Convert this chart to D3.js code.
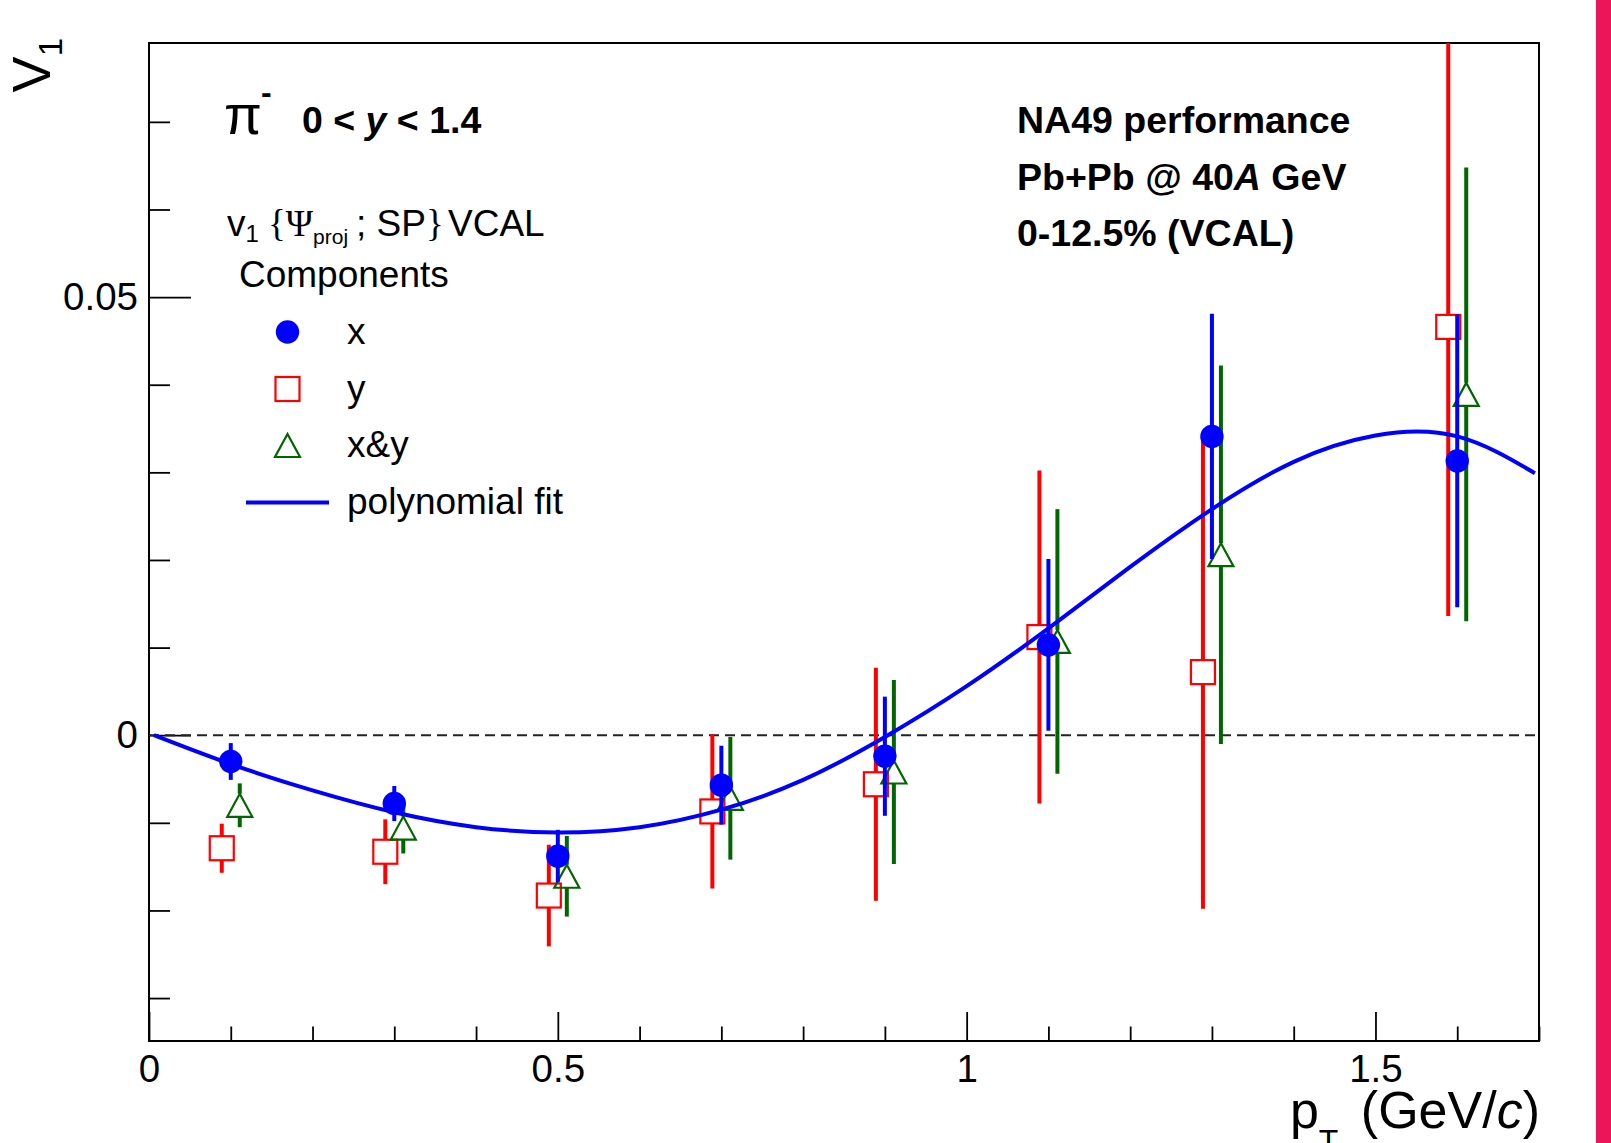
<!DOCTYPE html>
<html>
<head>
<meta charset="utf-8">
<script src="https://cdn.jsdelivr.net/npm/d3@7"></script>
<style>
  body { margin: 0; background: #fff; }
  svg { display: block; }
  text { font-family: "Liberation Sans", Arial, sans-serif; fill: #000; }
</style>
</head>
<body>
<div id="chart"></div>
<script>
// pT bins (GeV/c) and v1 values
const ptBins = [0.1, 0.3, 0.5, 0.7, 0.9, 1.1, 1.3, 1.6];

const v1X = [-0.0030, -0.0078, -0.0138, -0.0057, -0.0024, 0.0103, 0.0341, 0.0313];
const errX = [0.0021, 0.0020, 0.0030, 0.0045, 0.0068, 0.0098, 0.0140, 0.0167];

const v1Y = [-0.0129, -0.0133, -0.0183, -0.0087, -0.0056, 0.0112, 0.0072, 0.0466];
const errY = [0.0028, 0.0037, 0.0058, 0.0088, 0.0133, 0.0190, 0.0270, 0.0330];

const v1XY = [-0.0080, -0.0106, -0.0161, -0.0072, -0.0042, 0.0107, 0.0206, 0.0389];
const errXY = [0.0025, 0.0029, 0.0046, 0.0070, 0.0105, 0.0151, 0.0216, 0.0259];

// polynomial fit, points
const fitPt = [0.006, 0.1, 0.2, 0.3, 0.4, 0.5, 0.6, 0.7, 0.8, 0.9, 1.0, 1.1, 1.2, 1.3, 1.4, 1.5, 1.6, 1.695];
const fitV1 = [0.0, -0.0033, -0.0063, -0.0088, -0.0105, -0.0111, -0.0105, -0.0085, -0.0051, -0.0002, 0.0056, 0.0122, 0.0192, 0.0258, 0.0312, 0.0342, 0.0341, 0.0299];

const xMajor = [0, 0.5, 1, 1.5];
const xMajorLabels = ["0", "0.5", "1", "1.5"];
const yMajor = [0, 0.05];
const yMajorLabels = ["0", "0.05"];

const W = 1611, H = 1143;
const frame = { left: 149, right: 1539, top: 43, bottom: 1041 };

const x = d3.scaleLinear().domain([0, 1.7]).range([frame.left, frame.right]);
const y = d3.scaleLinear().domain([-0.0349, 0.079]).range([frame.bottom, frame.top]);

const shift = 0.011; // horizontal offset between the three components

const svg = d3.select("#chart").append("svg")
  .attr("width", W)
  .attr("height", H);

svg.append("rect").attr("width", W).attr("height", H).attr("fill", "#fff");

// pink strip on the right edge
svg.append("rect")
  .attr("x", 1596).attr("y", 0)
  .attr("width", 15).attr("height", H)
  .attr("fill", "#ec1559");

svg.append("clipPath").attr("id", "plotclip")
  .append("rect")
  .attr("x", frame.left).attr("y", frame.top)
  .attr("width", frame.right - frame.left)
  .attr("height", frame.bottom - frame.top);

// axes (ROOT style: ticks inside the frame)
const xMinor = d3.range(0, 1.71, 0.1).map((d) => +d.toFixed(2)).filter((d) => !xMajor.includes(d));
const yMinor = d3.range(-0.03, 0.0751, 0.01).map((d) => +d.toFixed(3)).filter((d) => !yMajor.includes(d));

svg.append("g")
  .attr("transform", `translate(0,${frame.bottom})`)
  .call(d3.axisBottom(x).tickValues(xMajor)
    .tickFormat((d, i) => xMajorLabels[i])
    .tickSizeInner(-29).tickSizeOuter(0).tickPadding(14));
svg.append("g")
  .attr("transform", `translate(0,${frame.bottom})`)
  .call(d3.axisBottom(x).tickValues(xMinor).tickFormat("")
    .tickSizeInner(-14.5).tickSizeOuter(0));

svg.append("g")
  .attr("transform", `translate(${frame.left},0)`)
  .call(d3.axisLeft(y).tickValues(yMajor)
    .tickFormat((d, i) => yMajorLabels[i])
    .tickSizeInner(-42).tickSizeOuter(0).tickPadding(11));
svg.append("g")
  .attr("transform", `translate(${frame.left},0)`)
  .call(d3.axisLeft(y).tickValues(yMinor).tickFormat("")
    .tickSizeInner(-21).tickSizeOuter(0));

svg.selectAll(".domain").remove();
svg.selectAll(".tick line").attr("stroke", "#000").attr("stroke-width", 1.8);
svg.selectAll(".tick text")
  .attr("font-family", "Liberation Sans, Arial, sans-serif")
  .attr("font-size", 38.5)
  .attr("fill", "#000");

// frame
svg.append("rect")
  .attr("x", frame.left).attr("y", frame.top)
  .attr("width", frame.right - frame.left)
  .attr("height", frame.bottom - frame.top)
  .attr("fill", "none")
  .attr("stroke", "#000")
  .attr("stroke-width", 2);

const plot = svg.append("g").attr("clip-path", "url(#plotclip)");

// zero line
plot.append("line")
  .attr("x1", frame.left).attr("x2", frame.right)
  .attr("y1", y(0)).attr("y2", y(0))
  .attr("stroke", "#222")
  .attr("stroke-width", 2)
  .attr("stroke-dasharray", "10,6");

const blue = "#0000ff", red = "#ff0000", green = "#006600";
const half = 12; // half marker size in px

function rows(vals, errs, dx) {
  return ptBins.map((p, i) => ({ pt: p + dx, v: vals[i], e: errs[i] }));
}

// error bars, leaving a gap where an open marker sits
function errorBars(data, color, gap) {
  const g = plot.append("g");
  data.forEach((d) => {
    const cx = x(d.pt), cy = y(d.v);
    const top = y(d.v + d.e), bot = y(d.v - d.e);
    const segs = gap > 0 ? [[top, cy - gap], [cy + gap, bot]] : [[top, bot]];
    segs.forEach(([a, b]) => {
      if (b > a) {
        g.append("line")
          .attr("x1", cx).attr("x2", cx)
          .attr("y1", a).attr("y2", b)
          .attr("stroke", color)
          .attr("stroke-width", 4);
      }
    });
  });
}

const triPath = (cx, cy) =>
  `M${cx},${cy - 11.5}L${cx + 12.5},${cy + 11.5}L${cx - 12.5},${cy + 11.5}Z`;

const dataY = rows(v1Y, errY, -shift);
const dataXY = rows(v1XY, errXY, shift);
const dataX = rows(v1X, errX, 0);

// y component: open red squares
errorBars(dataY, red, half);
plot.append("g").selectAll("rect")
  .data(dataY).enter().append("rect")
  .attr("x", (d) => x(d.pt) - half)
  .attr("y", (d) => y(d.v) - half)
  .attr("width", half * 2).attr("height", half * 2)
  .attr("fill", "none")
  .attr("stroke", red)
  .attr("stroke-width", 2.2);

// x&y component: open green triangles
errorBars(dataXY, green, 11.5);
plot.append("g").selectAll("path")
  .data(dataXY).enter().append("path")
  .attr("d", (d) => triPath(x(d.pt), y(d.v)))
  .attr("fill", "none")
  .attr("stroke", green)
  .attr("stroke-width", 2.2);

// x component: full blue circles
errorBars(dataX, blue, 0);
plot.append("g").selectAll("circle")
  .data(dataX).enter().append("circle")
  .attr("cx", (d) => x(d.pt))
  .attr("cy", (d) => y(d.v))
  .attr("r", 11.7)
  .attr("fill", blue);

// polynomial fit
const fitLine = d3.line()
  .x((d, i) => x(fitPt[i]))
  .y((d) => y(d))
  .curve(d3.curveNatural);
plot.append("path")
  .datum(fitV1)
  .attr("d", fitLine)
  .attr("fill", "none")
  .attr("stroke", blue)
  .attr("stroke-width", 4);

// axis titles
const yTitle = svg.append("text")
  .attr("transform", "translate(50,38) rotate(-90)")
  .attr("text-anchor", "end")
  .attr("font-size", 54);
yTitle.append("tspan").text("V");
yTitle.append("tspan").attr("font-size", 33).attr("dy", 12).text("1");

const xTitle = svg.append("text")
  .attr("x", 1540).attr("y", 1128)
  .attr("text-anchor", "end")
  .attr("font-size", 52);
xTitle.append("tspan").text("p");
xTitle.append("tspan").attr("font-size", 32).attr("dy", 24).text("T");
xTitle.append("tspan").attr("dy", -24).attr("dx", 8).text(" (GeV/");
xTitle.append("tspan").attr("font-style", "italic").text("c");
xTitle.append("tspan").text(")");

// particle and rapidity
svg.append("text")
  .attr("x", 224).attr("y", 134)
  .attr("font-family", "Liberation Serif, Times New Roman, serif")
  .attr("font-size", 55)
  .text("π");
svg.append("text")
  .attr("x", 261).attr("y", 103)
  .attr("font-weight", "bold")
  .attr("font-size", 32)
  .text("-");
const rap = svg.append("text")
  .attr("x", 302).attr("y", 133)
  .attr("font-weight", "bold")
  .attr("font-size", 37.5);
rap.append("tspan").text("0 < ");
rap.append("tspan").attr("font-style", "italic").text("y");
rap.append("tspan").text(" < 1.4");

// experiment labels
const info = svg.append("g").attr("font-weight", "bold").attr("font-size", 37.5);
info.append("text").attr("x", 1017).attr("y", 133).text("NA49 performance");
const beam = info.append("text").attr("x", 1017).attr("y", 189.5);
beam.append("tspan").text("Pb+Pb @ 40");
beam.append("tspan").attr("font-style", "italic").text("A");
beam.append("tspan").text(" GeV");
info.append("text").attr("x", 1017).attr("y", 245.5).text("0-12.5% (VCAL)");

// legend header
const head = svg.append("text")
  .attr("x", 227).attr("y", 236)
  .attr("font-size", 37);
head.append("tspan").text("v");
head.append("tspan").attr("font-size", 24).attr("dy", 6).text("1");
head.append("tspan").attr("x", 268).attr("dy", -6).attr("font-family", "Liberation Serif, serif").text("{Ψ");
head.append("tspan").attr("font-size", 21).attr("dy", 8).text("proj");
head.append("tspan").attr("x", 356).attr("dy", -8).text("; SP");
head.append("tspan").attr("font-family", "Liberation Serif, serif").text("}");
head.append("tspan").attr("x", 448).text("VCAL");

svg.append("text")
  .attr("x", 239).attr("y", 287)
  .attr("font-size", 37)
  .text("Components");

// legend entries
const legendLabels = ["x", "y", "x&y", "polynomial fit"];
const legendRowY = [332, 389, 445.5, 502.5];
const lg = svg.append("g");
lg.append("circle").attr("cx", 287.5).attr("cy", legendRowY[0]).attr("r", 11.7).attr("fill", blue);
lg.append("rect")
  .attr("x", 287.5 - half).attr("y", legendRowY[1] - half)
  .attr("width", half * 2).attr("height", half * 2)
  .attr("fill", "none").attr("stroke", red).attr("stroke-width", 2.2);
lg.append("path")
  .attr("d", triPath(287.5, legendRowY[2]))
  .attr("fill", "none").attr("stroke", green).attr("stroke-width", 2.2);
lg.append("line")
  .attr("x1", 246).attr("x2", 329)
  .attr("y1", legendRowY[3]).attr("y2", legendRowY[3])
  .attr("stroke", blue).attr("stroke-width", 4);
lg.selectAll("text")
  .data(legendLabels).enter().append("text")
  .attr("x", 347)
  .attr("y", (d, i) => legendRowY[i] + 11.5)
  .attr("font-size", 37)
  .text((d) => d);
</script>
</body>
</html>
